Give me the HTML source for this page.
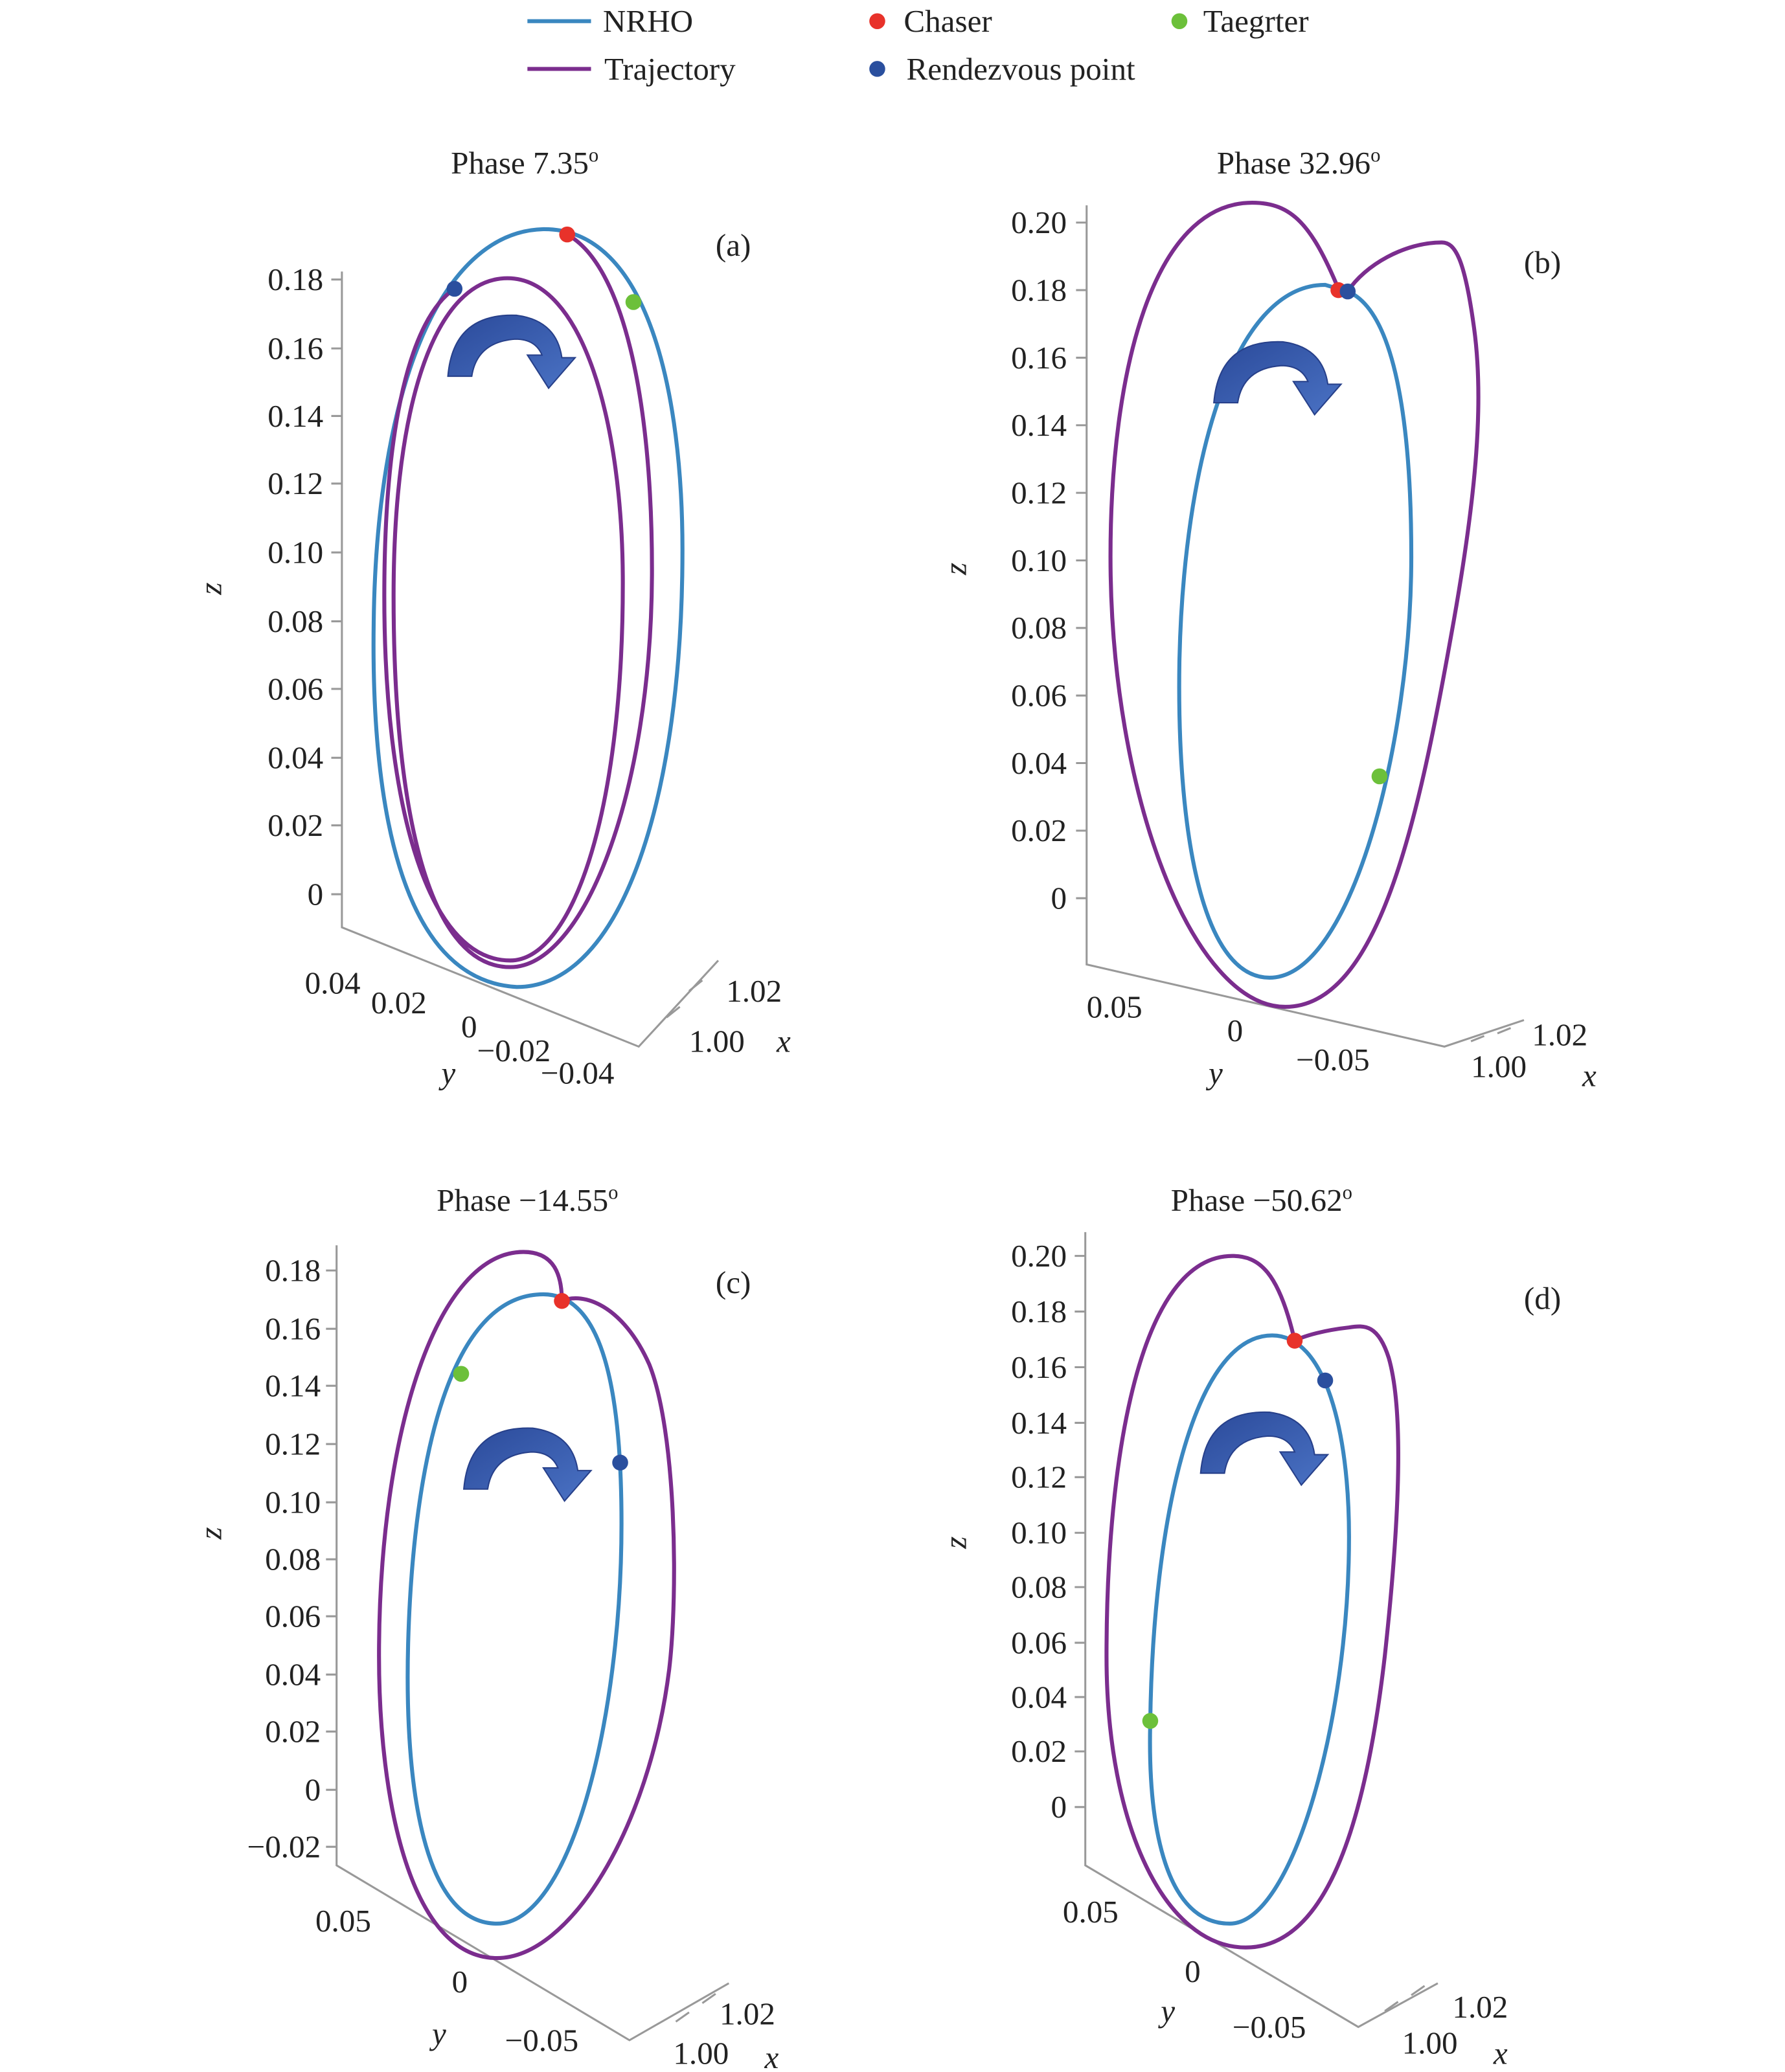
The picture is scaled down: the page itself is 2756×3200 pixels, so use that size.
<!DOCTYPE html>
<html><head><meta charset="utf-8"><style>
html,body{margin:0;padding:0;background:#fff}
svg{display:block}
text{font-family:"Liberation Serif",serif;font-size:24px;fill:#222}
.t{text-anchor:end}
</style></head><body>
<svg width="2756" height="3200" viewBox="0 0 1347 1564" preserveAspectRatio="none" xmlns="http://www.w3.org/2000/svg">
<defs>
<linearGradient id="ag" x1="0" y1="0" x2="1" y2="1"><stop offset="0" stop-color="#2b4a9a"/><stop offset="1" stop-color="#4a72c4"/></linearGradient>
<g id="arrow"><path d="M338 284 Q342 236 390 238 Q420 242 424 270 L434 270 L414 293 L398 268 L409 268 Q404 256 389 256 Q360 258 356 284 Z" fill="url(#ag)" stroke="#27408a" stroke-width="1"/></g>
</defs>
<g fill="none" stroke-width="3">
<line x1="398" y1="16" x2="446" y2="16" stroke="#3a87c0"/>
<line x1="398" y1="52" x2="446" y2="52" stroke="#7b2d8e"/>
</g>
<text x="455" y="24">NRHO</text>
<text x="456" y="60">Trajectory</text>
<circle cx="662" cy="16" r="6" fill="#e8322a"/><text x="682" y="24">Chaser</text>
<circle cx="662" cy="52" r="6" fill="#2a4f9e"/><text x="684" y="60">Rendezvous point</text>
<circle cx="890" cy="16" r="6" fill="#6cc03a"/><text x="908" y="24">Taegrter</text>

<text x="396" y="131" text-anchor="middle">Phase 7.35<tspan dy="-9" font-size="15">o</tspan></text>
<text x="980" y="131" text-anchor="middle">Phase 32.96<tspan dy="-9" font-size="15">o</tspan></text>
<text x="398" y="914" text-anchor="middle">Phase −14.55<tspan dy="-9" font-size="15">o</tspan></text>
<text x="952" y="914" text-anchor="middle">Phase −50.62<tspan dy="-9" font-size="15">o</tspan></text>
<text x="540" y="193">(a)</text><text x="1150" y="206">(b)</text>
<text x="540" y="976">(c)</text><text x="1150" y="988">(d)</text>

<g stroke="#999" stroke-width="1.5" fill="none">
<path d="M258 205 V700 L482 790 L542 725"/>
<path d="M820 155 V728 L1090 790 L1150 770"/>
<path d="M254 940 V1408 L475 1540 L550 1497"/>
<path d="M819 930 V1408 L1025 1530 L1085 1497"/>
<path d="M250 211h8M250 263h8M250 314h8M250 365h8M250 417h8M250 469h8M250 520h8M250 572h8M250 623h8M250 675h8"/>
<path d="M812 168h8M812 219h8M812 270h8M812 321h8M812 372h8M812 423h8M812 474h8M812 525h8M812 576h8M812 627h8M812 678h8"/>
<path d="M246 959h8M246 1003h8M246 1046h8M246 1090h8M246 1134h8M246 1177h8M246 1220h8M246 1264h8M246 1307h8M246 1351h8M246 1394h8"/>
<path d="M811 948h8M811 990h8M811 1032h8M811 1074h8M811 1115h8M811 1157h8M811 1198h8M811 1240h8M811 1281h8M811 1322h8M811 1364h8"/>
<path d="M520 748l10-8M503 768l10-8M1130 780l10-4M1110 786l10-4M530 1512l10-7M510 1526l10-7M1065 1506l10-7M1045 1518l10-7"/>
</g>
<g>
<text class="t" x="244" y="219">0.18</text><text class="t" x="244" y="271">0.16</text><text class="t" x="244" y="322">0.14</text><text class="t" x="244" y="373">0.12</text><text class="t" x="244" y="425">0.10</text><text class="t" x="244" y="477">0.08</text><text class="t" x="244" y="528">0.06</text><text class="t" x="244" y="580">0.04</text><text class="t" x="244" y="631">0.02</text><text class="t" x="244" y="683">0</text>
<text class="t" x="805" y="176">0.20</text><text class="t" x="805" y="227">0.18</text><text class="t" x="805" y="278">0.16</text><text class="t" x="805" y="329">0.14</text><text class="t" x="805" y="380">0.12</text><text class="t" x="805" y="431">0.10</text><text class="t" x="805" y="482">0.08</text><text class="t" x="805" y="533">0.06</text><text class="t" x="805" y="584">0.04</text><text class="t" x="805" y="635">0.02</text><text class="t" x="805" y="686">0</text>
<text class="t" x="242" y="967">0.18</text><text class="t" x="242" y="1011">0.16</text><text class="t" x="242" y="1054">0.14</text><text class="t" x="242" y="1098">0.12</text><text class="t" x="242" y="1142">0.10</text><text class="t" x="242" y="1185">0.08</text><text class="t" x="242" y="1228">0.06</text><text class="t" x="242" y="1272">0.04</text><text class="t" x="242" y="1315">0.02</text><text class="t" x="242" y="1359">0</text><text class="t" x="242" y="1402">−0.02</text>
<text class="t" x="805" y="956">0.20</text><text class="t" x="805" y="998">0.18</text><text class="t" x="805" y="1040">0.16</text><text class="t" x="805" y="1082">0.14</text><text class="t" x="805" y="1123">0.12</text><text class="t" x="805" y="1165">0.10</text><text class="t" x="805" y="1206">0.08</text><text class="t" x="805" y="1248">0.06</text><text class="t" x="805" y="1289">0.04</text><text class="t" x="805" y="1330">0.02</text><text class="t" x="805" y="1372">0</text>
</g>
<text x="230" y="750">0.04</text><text x="280" y="765">0.02</text><text x="348" y="783">0</text><text x="360" y="801">−0.02</text><text x="408" y="818">−0.04</text>
<text x="548" y="756">1.02</text><text x="520" y="794">1.00</text><text x="586" y="794" font-style="italic">x</text><text x="333" y="818" font-style="italic">y</text>
<text x="166" y="462" font-style="italic" transform="rotate(-90 160 455)">z</text>
<text x="820" y="768">0.05</text><text x="926" y="786">0</text><text x="978" y="808">−0.05</text><text x="1156" y="789">1.02</text><text x="1110" y="813">1.00</text><text x="1194" y="820" font-style="italic">x</text><text x="912" y="818" font-style="italic">y</text>
<text x="728" y="447" font-style="italic" transform="rotate(-90 722 440)">z</text>
<text x="238" y="1458">0.05</text><text x="341" y="1504">0</text><text x="381" y="1548">−0.05</text><text x="543" y="1528">1.02</text><text x="508" y="1558">1.00</text><text x="577" y="1561" font-style="italic">x</text><text x="326" y="1543" font-style="italic">y</text>
<text x="166" y="1175" font-style="italic" transform="rotate(-90 160 1168)">z</text>
<text x="802" y="1451">0.05</text><text x="894" y="1496">0</text><text x="930" y="1538">−0.05</text><text x="1096" y="1523">1.02</text><text x="1058" y="1550">1.00</text><text x="1127" y="1558" font-style="italic">x</text><text x="876" y="1526" font-style="italic">y</text>
<text x="728" y="1182" font-style="italic" transform="rotate(-90 722 1175)">z</text>

<g fill="none" stroke-width="3">
<path d="M390 745 C300 740 280 600 282 470 C284 300 330 175 410 173 C490 172 515 300 515 415 C515 600 470 745 390 745 Z" stroke="#3a87c0"/>
<path d="M428 177 C470 200 492 300 492 430 C492 600 440 730 385 730 C320 730 297 600 297 450 C297 300 330 210 383 210 C440 210 470 320 470 440 C470 620 430 725 385 725 C320 725 290 600 290 450 C290 320 310 240 343 218" stroke="#7b2d8e"/>
<path d="M1010 218 C1055 225 1065 330 1065 420 C1065 560 1020 738 958 738 C905 738 888 620 890 500 C893 350 930 215 1000 215 Z" stroke="#3a87c0"/>
<path d="M1010 218 C990 170 975 153 945 153 C870 153 838 280 838 420 C838 600 900 760 970 760 C1040 760 1070 620 1095 480 C1115 370 1120 300 1112 245 C1105 195 1098 183 1088 183 C1060 183 1030 200 1017 220" stroke="#7b2d8e"/>
<path d="M375 1452 C320 1452 305 1350 308 1240 C312 1100 340 977 410 977 C455 977 469 1050 469 1150 C469 1300 430 1452 375 1452 Z" stroke="#3a87c0"/>
<path d="M424 982 C440 975 470 985 490 1030 C510 1080 512 1200 505 1260 C490 1380 430 1478 375 1478 C310 1478 286 1360 286 1250 C286 1080 330 945 395 945 C418 945 424 962 424 982" stroke="#7b2d8e"/>
<path d="M928 1452 C880 1452 866 1380 868 1300 C870 1150 900 1008 960 1008 C1000 1008 1018 1080 1018 1160 C1018 1300 975 1452 928 1452 Z" stroke="#3a87c0"/>
<path d="M977 1012 C965 960 950 948 930 948 C860 948 835 1100 835 1250 C835 1380 880 1470 940 1470 C1000 1470 1030 1380 1045 1250 C1058 1130 1058 1060 1048 1025 C1040 1000 1030 1000 1018 1002 C1000 1004 985 1008 977 1012" stroke="#7b2d8e"/>
</g>
<circle cx="343" cy="218" r="6" fill="#2a4f9e"/><circle cx="428" cy="177" r="6" fill="#e8322a"/><circle cx="478" cy="228" r="6" fill="#6cc03a"/>
<circle cx="1010" cy="219" r="6" fill="#e8322a"/><circle cx="1017" cy="220" r="6" fill="#2a4f9e"/><circle cx="1041" cy="586" r="6" fill="#6cc03a"/>
<circle cx="424" cy="982" r="6" fill="#e8322a"/><circle cx="468" cy="1104" r="6" fill="#2a4f9e"/><circle cx="348" cy="1037" r="6" fill="#6cc03a"/>
<circle cx="977" cy="1012" r="6" fill="#e8322a"/><circle cx="1000" cy="1042" r="6" fill="#2a4f9e"/><circle cx="868" cy="1299" r="6" fill="#6cc03a"/>
<use href="#arrow"/>
<use href="#arrow" transform="translate(578 20)"/>
<use href="#arrow" transform="translate(12 840)"/>
<use href="#arrow" transform="translate(568 828)"/>
</svg>
</body></html>
